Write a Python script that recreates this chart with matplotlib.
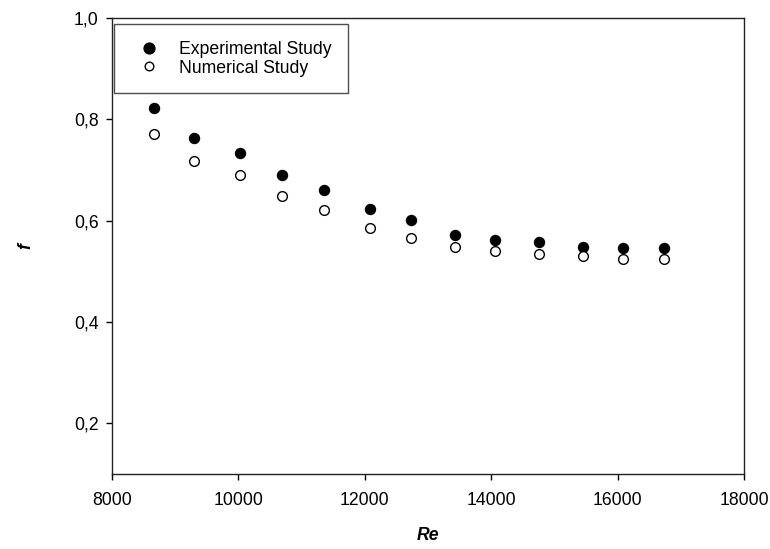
import matplotlib
matplotlib.use("Agg")
import matplotlib.pyplot as plt
from matplotlib.ticker import FuncFormatter

plt.rcParams["font.family"] = ["Liberation Sans", "DejaVu Sans"]

re_values = [8660, 9300, 10030, 10685, 11360, 12075, 12725, 13420, 14055, 14750, 15445, 16080, 16730]
f_experimental = [0.822, 0.763, 0.733, 0.690, 0.660, 0.623, 0.601, 0.572, 0.562, 0.558, 0.549, 0.547, 0.546]
f_numerical = [0.772, 0.717, 0.690, 0.648, 0.621, 0.586, 0.565, 0.548, 0.541, 0.535, 0.531, 0.525, 0.524]

x_ticks = [8000, 10000, 12000, 14000, 16000, 18000]
y_ticks = [0.2, 0.4, 0.6, 0.8, 1.0]

fs = 12.7

fig = plt.figure(figsize=(7.7, 5.49), dpi=100)
ax = fig.add_axes([112 / 770, 1 - 474 / 549, (744 - 112) / 770, (474 - 18) / 549])

ax.plot(re_values, f_experimental, "o", color="black", markersize=7.2,
        label="Experimental Study", linestyle="none")
ax.plot(re_values, f_numerical, "o", markerfacecolor="white", markeredgecolor="black",
        markeredgewidth=1.0, markersize=7.0, label="Numerical Study", linestyle="none")

ax.set_xlim(8000, 18000)
ax.set_ylim(0.1, 1.0)
ax.set_xticks(x_ticks)
ax.set_yticks(y_ticks)
ax.yaxis.set_major_formatter(FuncFormatter(lambda v, p: f"{v:.1f}".replace(".", ",")))
ax.tick_params(direction="out", length=4.3, width=1, labelsize=fs, top=False, right=False)
ax.tick_params(axis="x", pad=8.5)
ax.tick_params(axis="y", pad=5.5)
for spine in ax.spines.values():
    spine.set_linewidth(1.0)
    spine.set_color("#222222")

ax.set_xlabel("Re", fontsize=fs, fontweight="bold", fontstyle="italic", va="center")
ax.xaxis.set_label_coords((112 + 744) / 2 / 770, 1 - 535 / 549, transform=fig.transFigure)
ax.set_ylabel("f", fontsize=fs, fontweight="bold", fontstyle="italic", va="center")
ax.yaxis.set_label_coords(26 / 770, 1 - 246 / 549, transform=fig.transFigure)

leg = ax.legend(loc="upper left", bbox_to_anchor=(114 / 770, 1 - 24 / 549),
                bbox_transform=fig.transFigure, borderaxespad=0, fontsize=fs,
                fancybox=False, frameon=True, numpoints=1, handlelength=2.08,
                handletextpad=0.66, borderpad=0.95, labelspacing=0.1)
leg.get_frame().set_edgecolor("#222222")
leg.get_frame().set_linewidth(1.0)
leg.legend_handles[0].set_markersize(7.8)
leg.legend_handles[1].set_markersize(6.2)

fig.savefig("out.png", dpi=100)
